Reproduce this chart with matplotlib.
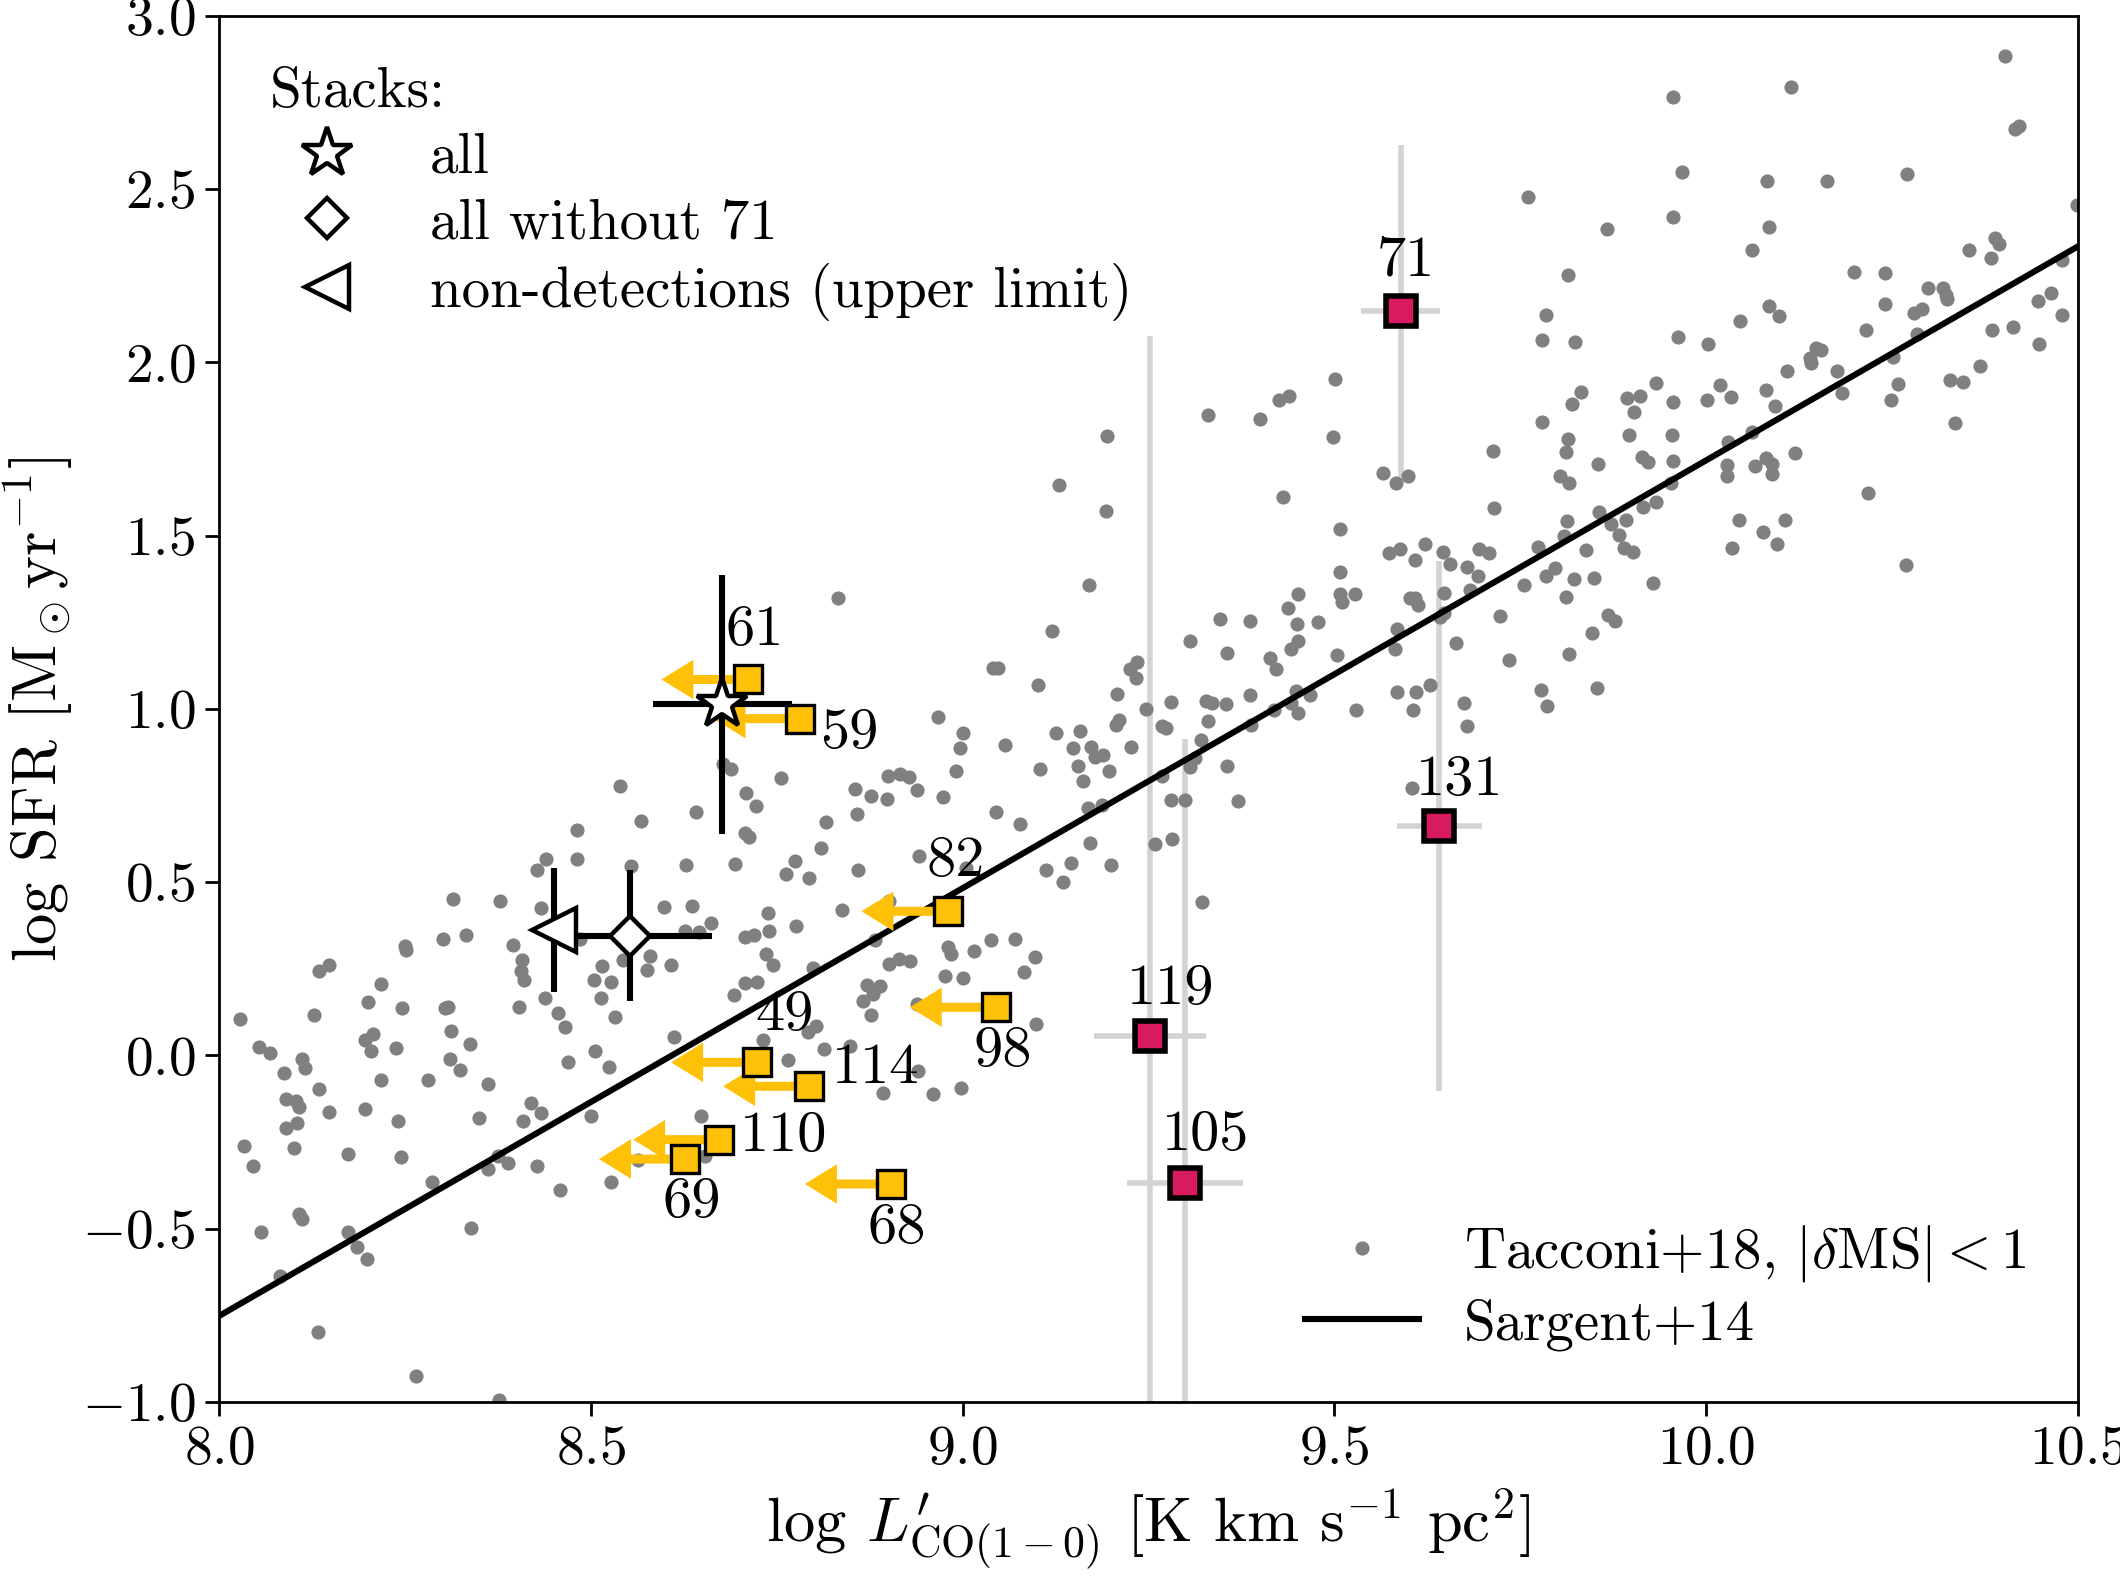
#!/usr/bin/env python

import matplotlib
matplotlib.use("Agg")
from matplotlib import pyplot as plt
from matplotlib.lines import Line2D

plt.rcParams['font.family'] = 'serif'
plt.rcParams['font.serif'] = ['cmr10']
plt.rcParams['mathtext.fontset'] = 'cm'
plt.rcParams['axes.formatter.use_mathtext'] = True

# Tacconi+18 sample, |dMS| < 1
tacconi_x = [
    8.028, 8.054, 8.069, 8.087, 8.111, 8.116, 8.134, 8.090, 8.103, 8.108, 8.105, 8.090, 8.101, 8.033, 8.046,
    8.148, 8.197, 8.241, 8.173, 8.245, 8.218, 8.281, 8.205, 8.196, 8.207, 8.238, 8.201, 8.218, 8.246, 8.128,
    8.134, 8.148, 8.250, 8.251, 8.301, 8.332, 8.315, 8.378, 8.304, 8.308, 8.312, 8.338, 8.310, 8.324, 8.362,
    8.350, 8.287, 8.362, 8.375, 8.388, 8.427, 8.459, 8.527, 8.563, 8.654, 8.648, 8.500, 8.409, 8.420, 8.433,
    8.469, 8.506, 8.524, 8.612, 8.404, 8.438, 8.456, 8.465, 8.532, 8.514, 8.504, 8.515, 8.527, 8.543, 8.580,
    8.576, 8.608, 8.627, 8.645, 8.662, 8.599, 8.636, 8.694, 8.628, 8.554, 8.482, 8.481, 8.440, 8.428, 8.433,
    8.567, 8.539, 8.641, 8.678, 8.688, 8.396, 8.407, 8.406, 8.410, 8.486, 8.693, 8.057, 8.108, 8.112, 8.082,
    8.173, 8.186, 8.199, 8.339, 8.133, 8.265, 8.377,
    8.833, 9.193, 9.170, 9.120, 9.041, 9.047, 9.102, 9.225, 9.208, 9.210, 8.967, 9.001, 8.996, 8.991, 9.057,
    9.126, 9.158, 9.149, 9.173, 9.178, 9.189, 9.155, 9.162, 9.197, 9.227, 9.104, 8.973, 8.900, 8.916, 8.928,
    8.938, 8.855, 8.877, 8.898, 8.756, 8.709, 8.722, 8.816, 8.858, 9.045, 9.077, 9.169, 9.187, 8.707, 8.713,
    8.809, 8.774, 8.762, 8.794, 8.859, 8.942, 9.005, 9.112, 9.135, 9.146, 9.171, 9.199, 8.738, 8.776, 8.740,
    8.707, 8.719, 8.838, 8.736, 8.745, 8.799, 8.708, 8.723, 8.882, 8.901, 8.981, 8.985, 9.015, 9.038, 9.071,
    9.097, 9.083, 8.976, 9.000, 8.901, 8.915, 8.929, 8.871, 8.889, 8.880, 8.866, 8.877, 8.938, 8.803, 8.792,
    9.099, 8.814, 8.848, 8.765, 8.731, 8.940, 8.893, 8.960, 8.998,
    9.129, 9.194, 9.330, 9.400, 9.425, 9.439, 9.501, 9.498, 9.431, 9.566, 9.583, 9.599, 9.713, 9.715, 9.779,
    9.785, 9.779, 9.507, 9.507, 9.507, 9.510, 9.528, 9.574, 9.588, 9.608, 9.622, 9.646, 9.656, 9.678, 9.693,
    9.695, 9.708, 9.683, 9.647, 9.602, 9.608, 9.613, 9.642, 9.648, 9.584, 9.582, 9.663, 9.723, 9.755, 9.774,
    9.785, 9.735, 9.778, 9.786, 9.584, 9.610, 9.628, 9.606, 9.674, 9.678, 9.605, 9.529, 9.451, 9.438, 9.450,
    9.478, 9.504, 9.451, 9.442, 9.413, 9.421, 9.386, 9.346, 9.356, 9.306, 9.386, 9.449, 9.467, 9.441, 9.451,
    9.419, 9.388, 9.354, 9.327, 9.336, 9.330, 9.321, 9.312, 9.306, 9.356, 9.371, 9.322, 9.280, 9.268, 9.274,
    9.247, 9.268, 9.280, 9.299, 9.259, 9.281, 9.235, 9.233, 9.206,
    9.956, 10.114, 10.402, 9.760, 9.968, 10.082, 10.163, 10.270, 10.415, 10.421, 9.955, 9.866, 10.084, 10.061,
    9.814, 10.499, 10.389, 10.394, 10.354, 10.383, 10.479, 9.824, 9.962, 10.003, 10.046, 10.085, 10.098,
    10.199, 10.240, 10.241, 10.215, 10.298, 10.318, 10.322, 10.324, 10.280, 10.290, 10.283, 10.384, 10.412,
    10.446, 10.464, 10.479, 10.448, 9.831, 9.820, 9.814, 9.812, 9.804, 9.816, 9.855, 9.894, 9.911, 9.903,
    9.933, 9.955, 9.896, 9.954, 9.913, 9.922, 9.955, 9.952, 9.915, 9.933, 10.001, 10.018, 10.033, 10.080,
    10.092, 10.108, 10.139, 10.141, 10.147, 10.155, 10.176, 10.183, 10.062, 10.029, 10.028, 10.028, 10.065,
    10.080, 10.089, 10.089, 10.119, 10.251, 10.258, 10.248, 10.328, 10.345, 10.368, 10.335, 10.217, 10.269,
    10.044, 10.106, 10.077, 10.095, 10.034, 9.856, 9.892, 9.872, 9.883, 9.890, 9.902, 9.839, 9.813, 9.809,
    9.797, 9.822, 9.849, 9.812, 9.928, 9.868, 9.878, 9.846, 9.816, 9.853,
]
tacconi_y = [
    0.106, 0.025, 0.008, -0.051, -0.009, -0.037, -0.098, -0.125, -0.131, -0.149, -0.194, -0.208, -0.268, -0.261, -0.320,
    -0.163, -0.156, -0.188, -0.285, -0.292, -0.072, -0.072, 0.012, 0.045, 0.061, 0.022, 0.153, 0.205, 0.136, 0.118,
    0.244, 0.262, 0.317, 0.303, 0.335, 0.349, 0.452, 0.445, 0.136, 0.139, 0.071, 0.033, -0.010, -0.041, -0.082,
    -0.181, -0.366, -0.327, -0.289, -0.310, -0.320, -0.388, -0.366, -0.301, -0.289, -0.174, -0.174, -0.188, -0.138, -0.166,
    -0.019, 0.012, -0.033, 0.052, 0.139, 0.167, 0.122, 0.083, 0.111, 0.167, 0.219, 0.258, 0.213, 0.275, 0.286,
    0.248, 0.262, 0.359, 0.356, 0.381, 0.429, 0.430, 0.553, 0.550, 0.548, 0.567, 0.651, 0.567, 0.536, 0.426,
    0.676, 0.777, 0.704, 0.840, 0.826, 0.318, 0.275, 0.244, 0.219, 0.335, 0.174, -0.511, -0.458, -0.472, -0.637,
    -0.511, -0.553, -0.587, -0.497, -0.797, -0.924, -0.994,
    1.321, 1.570, 1.357, 1.226, 1.119, 1.119, 1.070, 1.115, 1.044, 0.968, 0.977, 0.932, 0.887, 0.822, 0.896,
    0.932, 0.935, 0.887, 0.890, 0.861, 0.867, 0.835, 0.792, 0.822, 0.889, 0.828, 0.745, 0.807, 0.813, 0.803,
    0.767, 0.770, 0.749, 0.741, 0.800, 0.758, 0.721, 0.674, 0.696, 0.703, 0.667, 0.715, 0.722, 0.642, 0.629,
    0.599, 0.560, 0.524, 0.513, 0.535, 0.575, 0.542, 0.535, 0.502, 0.555, 0.612, 0.549, 0.412, 0.375, 0.358,
    0.341, 0.349, 0.420, 0.294, 0.261, 0.251, 0.210, 0.212, 0.332, 0.446, 0.313, 0.294, 0.300, 0.332, 0.336,
    0.284, 0.242, 0.229, 0.223, 0.265, 0.278, 0.274, 0.203, 0.201, 0.177, 0.158, 0.117, 0.149, 0.085, 0.068,
    0.090, 0.019, 0.027, -0.012, 0.045, -0.046, -0.109, -0.110, -0.093,
    1.647, 1.789, 1.848, 1.838, 1.892, 1.903, 1.951, 1.786, 1.612, 1.681, 1.651, 1.673, 1.744, 1.580, 2.066,
    2.137, 1.828, 1.520, 1.396, 1.331, 1.310, 1.331, 1.449, 1.462, 1.429, 1.477, 1.454, 1.417, 1.410, 1.384,
    1.462, 1.449, 1.342, 1.335, 1.320, 1.320, 1.299, 1.264, 1.277, 1.232, 1.174, 1.190, 1.268, 1.357, 1.467,
    1.384, 1.142, 1.054, 1.009, 1.049, 1.049, 1.068, 0.996, 1.017, 0.951, 0.772, 0.998, 1.333, 1.290, 1.245,
    1.251, 1.157, 1.196, 1.172, 1.148, 1.114, 1.255, 1.260, 1.161, 1.196, 1.041, 1.052, 1.039, 1.017, 0.987,
    0.998, 0.955, 1.013, 1.023, 1.017, 0.965, 0.910, 0.858, 0.832, 0.835, 0.733, 0.442, 1.019, 0.952, 0.946,
    1.000, 0.807, 0.738, 0.736, 0.611, 0.626, 1.135, 1.090, 0.955,
    2.765, 2.794, 2.884, 2.478, 2.549, 2.525, 2.525, 2.545, 2.675, 2.682, 2.419, 2.386, 2.392, 2.325,
    2.252, 2.455, 2.360, 2.343, 2.325, 2.301, 2.295, 2.060, 2.074, 2.054, 2.119, 2.162, 2.134,
    2.262, 2.257, 2.169, 2.095, 2.215, 2.215, 2.195, 2.183, 2.142, 2.154, 2.081, 2.095, 2.101,
    2.178, 2.201, 2.136, 2.054, 1.916, 1.881, 1.779, 1.742, 1.673, 1.651, 1.708, 1.897, 1.903, 1.857,
    1.942, 1.886, 1.791, 1.792, 1.727, 1.712, 1.716, 1.653, 1.582, 1.598, 1.891, 1.936, 1.901, 1.921,
    1.873, 1.975, 2.013, 1.998, 2.042, 2.036, 1.974, 1.912, 1.800, 1.771, 1.704, 1.673, 1.700,
    1.724, 1.708, 1.677, 1.738, 2.016, 1.939, 1.892, 1.950, 1.944, 1.991, 1.824, 1.624, 1.415,
    1.545, 1.545, 1.512, 1.476, 1.464, 1.568, 1.545, 1.533, 1.502, 1.464, 1.453, 1.459, 1.541, 1.500,
    1.408, 1.376, 1.378, 1.323, 1.364, 1.270, 1.255, 1.219, 1.158, 1.060,
]

# Sargent+14 relation (end points)
sargent_x = [8.0, 10.5]
sargent_y = [-0.752, 2.335]

# non-detections: upper limits in L'CO
lim_id = ['61', '59', '82', '98', '49', '114', '110', '69', '68']
lim_x = [8.711, 8.781, 8.980, 9.045, 8.724, 8.794, 8.673, 8.627, 8.904]
lim_y = [1.085, 0.972, 0.416, 0.139, -0.020, -0.089, -0.243, -0.299, -0.371]
lim_arrow = 0.116

# detections
det_id = ['71', '131', '119', '105']
det_x = [9.589, 9.641, 9.252, 9.299]
det_y = [2.149, 0.662, 0.055, -0.368]
det_xerr = [0.053, 0.057, 0.075, 0.078]
det_yerr = [0.48, 0.765, 2.02, 1.28]

# stacks
stack_labels = ['all', 'all without 71', 'non-detections (upper limit)']
stack_x = [8.677, 8.553, 8.451]
stack_y = [1.013, 0.346, 0.362]
stack_xerr = [0.093, 0.11, None]
stack_yerr = [0.375, 0.19, 0.18]

# label offsets in points
lim_off = [(2.4, 17.5), (18, -5.4), (2.9, 18), (2.4, -16), (9.7, 17), (24, 6.3), (23, 1), (2.4, -15.6), (2, -16)]
det_off = [(2, 18), (7.3, 16.5), (7.3, 17), (7.3, 17)]

YELLOW = '#FFC107'
CRIMSON = '#D81B60'

fig = plt.figure(figsize=(10.6, 7.9), dpi=200)
ax = fig.add_axes([0.1033, 0.1127, 0.8769, 0.8772])

# detections error bars (light grey, underneath)
ax.errorbar(det_x, det_y, xerr=det_xerr, yerr=det_yerr, fmt='none',
            ecolor='lightgray', elinewidth=2.0, capsize=0, zorder=1)

dots, = ax.plot(tacconi_x, tacconi_y, 'o', color='gray', ms=5.1, mew=0, zorder=2,
                label=r'Tacconi+18, $|\delta\mathrm{MS}| < 1$')
line, = ax.plot(sargent_x, sargent_y, color='k', lw=2.2, zorder=3, label='Sargent+14')

# upper limits
for x, y in zip(lim_x, lim_y):
    ax.arrow(x, y, -lim_arrow, 0, width=0.026, head_width=0.114, head_length=0.043,
             length_includes_head=True, color=YELLOW, lw=0, zorder=4)
ax.plot(lim_x, lim_y, 's', ms=10, mfc=YELLOW, mec='k', mew=1.2, ls='none', zorder=5)
for name, x, y, off in zip(lim_id, lim_x, lim_y, lim_off):
    ax.annotate(name, (x, y), xytext=off, textcoords='offset points',
                ha='center', va='center', fontsize=21, zorder=8)

# stacks
markers = ['*', 'D', '<']
sizes = [19, 10, 16]
for i in range(3):
    ax.errorbar(stack_x[i], stack_y[i], xerr=stack_xerr[i], yerr=stack_yerr[i],
                fmt=markers[i], ms=sizes[i], mfc='white', mec='k', mew=1.6,
                ecolor='k', elinewidth=2.2, capsize=0, zorder=6)

# detections
ax.plot(det_x, det_y, 's', ms=11, mfc=CRIMSON, mec='k', mew=2.0, ls='none', zorder=7)
for name, x, y, off in zip(det_id, det_x, det_y, det_off):
    ax.annotate(name, (x, y), xytext=off, textcoords='offset points',
                ha='center', va='center', fontsize=21, zorder=8)

ax.set_xlim(8.0, 10.5)
ax.set_ylim(-1.0, 3.0)
ax.set_xticks([8.0, 8.5, 9.0, 9.5, 10.0, 10.5])
ax.set_yticks([-1.0, -0.5, 0.0, 0.5, 1.0, 1.5, 2.0, 2.5, 3.0])
ax.tick_params(direction='out', length=5, width=1, labelsize=20)
for sp in ax.spines.values():
    sp.set_linewidth(1.0)

ax.set_xlabel(r"log $L^{\prime}_{\mathrm{CO}(1-0)}$ [K km s$^{-1}$ pc$^2$]", fontsize=22.5, labelpad=4)
ax.set_ylabel(r'log SFR [M$_\odot$yr$^{-1}$]', fontsize=22.5, labelpad=2.5)

# legends
handles = [Line2D([], [], ls='none', marker=m, ms=s, mfc='white', mec='k', mew=1.6)
           for m, s in zip(markers, sizes)]
leg1 = ax.legend(handles, stack_labels, title='Stacks:', loc='upper left', frameon=False,
                 fontsize=20.5, title_fontsize=20.5, alignment='left', labelspacing=0.25)
ax.add_artist(leg1)
ax.legend([dots, line], [dots.get_label(), line.get_label()], loc='lower right',
          frameon=False, fontsize=20.5, labelspacing=0.25)

fig.savefig('out.png', dpi=200)
